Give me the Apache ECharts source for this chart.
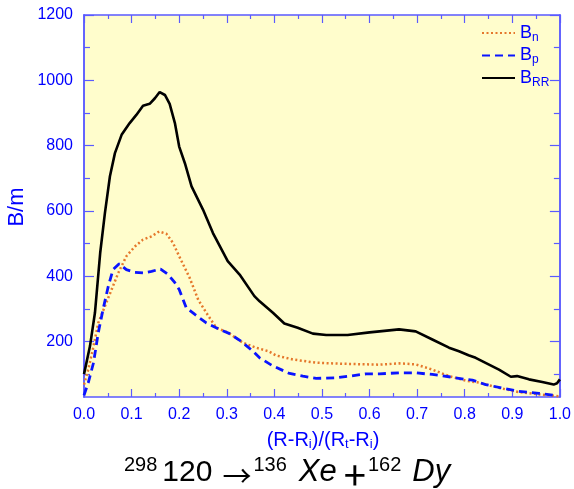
<!DOCTYPE html>
<html>
<head>
<meta charset="utf-8">
<script src="https://cdn.jsdelivr.net/npm/echarts@6/dist/echarts.min.js"></script>
<style>
html,body{margin:0;padding:0;background:#fff;}
#chart{width:574px;height:489px;}
</style>
</head>
<body>
<div id="chart"></div>
<script>
// ---- data ----
const seriesNames = ['Bn', 'Bp', 'BRR'];
const xTickLabels = ['0.0','0.1','0.2','0.3','0.4','0.5','0.6','0.7','0.8','0.9','1.0'];
const yTickLabels = [200, 400, 600, 800, 1000, 1200];
const yMinorTicks = [100, 300, 500, 700, 900, 1100];

const brrX = [0, 0.0126, 0.023, 0.034, 0.044, 0.0545, 0.065, 0.079, 0.096, 0.11, 0.124, 0.138, 0.149, 0.159, 0.170, 0.18, 0.191, 0.2, 0.212, 0.226, 0.25, 0.271, 0.302, 0.327, 0.358, 0.369, 0.397, 0.421, 0.449, 0.481, 0.509, 0.554, 0.6, 0.621, 0.662, 0.697, 0.732, 0.767, 0.788, 0.808, 0.823, 0.872, 0.897, 0.91, 0.935, 0.963, 0.987, 0.994, 1.0];
const brrY = [100, 186, 288, 471, 594, 706, 777, 833, 869, 894, 922, 928, 945, 964, 955, 928, 869, 797, 746, 675, 604, 532, 446, 405, 339, 323, 288, 255, 242, 224, 220, 220, 228, 231, 237, 231, 206, 181, 170, 158, 150, 114, 92, 94, 84, 76, 68, 72, 84];

const bnX = [0, 0.009, 0.02, 0.03, 0.044, 0.058, 0.072, 0.089, 0.107, 0.124, 0.142, 0.158, 0.173, 0.187, 0.2, 0.222, 0.24, 0.257, 0.278, 0.303, 0.334, 0.362, 0.388, 0.404, 0.439, 0.488, 0.537, 0.593, 0.621, 0.662, 0.697, 0.732, 0.767, 0.806, 0.83, 0.872, 0.914, 0.956, 1.0];
const bnY = [68, 114, 186, 257, 308, 359, 410, 461, 491, 512, 522, 537, 530, 502, 461, 395, 328, 288, 242, 227, 196, 181, 170, 157, 145, 135, 132, 130, 129, 133, 130, 114, 94, 79, 74, 58, 45, 38, 32];

const bpX = [0, 0.009, 0.02, 0.03, 0.04, 0.051, 0.061, 0.074, 0.089, 0.107, 0.124, 0.142, 0.161, 0.177, 0.191, 0.2, 0.215, 0.233, 0.257, 0.285, 0.306, 0.33, 0.355, 0.369, 0.397, 0.432, 0.46, 0.488, 0.53, 0.558, 0.593, 0.621, 0.662, 0.697, 0.732, 0.767, 0.802, 0.816, 0.844, 0.886, 0.914, 0.956, 0.991];
const bpY = [35, 74, 135, 227, 298, 369, 420, 438, 420, 412, 410, 415, 422, 405, 380, 359, 303, 283, 257, 237, 224, 201, 170, 150, 125, 102, 94, 87, 89, 94, 101, 101, 104, 104, 99, 92, 84, 82, 68, 55, 47, 41, 35];

// ---- chart ----
const zip = (xs, ys) => xs.map((x, i) => [x, ys[i]]);
const AX = '#5a5aff';
const LBL = '#0000ff';
const FONT = 'Liberation Sans';

const xBase = {
  type: 'value', min: 0, max: 1, interval: 0.1,
  axisLine: { show: true, onZero: false, lineStyle: { color: AX, width: 1.5 } },
  axisTick: { show: true, inside: true, length: 8, lineStyle: { color: AX, width: 1.2 } },
  minorTick: { show: true, splitNumber: 2, length: 4, lineStyle: { color: AX, width: 1.2 } },
  splitLine: { show: false }, minorSplitLine: { show: false }
};
const yBase = {
  type: 'value', min: 30, max: 1200,
  splitLine: { show: false }
};
function yAxisDef(pos, ticks, len, labels) {
  return Object.assign({}, yBase, {
    position: pos,
    axisLine: { show: true, onZero: false, lineStyle: { color: AX, width: 1.5 } },
    axisTick: { show: true, inside: true, length: len, customValues: ticks, lineStyle: { color: AX, width: 1.2 } },
    axisLabel: labels ? { show: true, customValues: yTickLabels, color: LBL, fontSize: 16, fontFamily: FONT, margin: 11,
      formatter: v => String(v) } : { show: false }
  });
}

const chart = echarts.init(document.getElementById('chart'), null, { renderer: 'canvas' });
chart.setOption({
  animation: false,
  backgroundColor: '#ffffff',
  grid: { left: 84, right: 13, top: 15, bottom: 92, show: true, backgroundColor: '#fffdcc', borderWidth: 0 },
  xAxis: [
    Object.assign({}, xBase, { position: 'bottom',
      axisLabel: { show: true, color: LBL, fontSize: 16, fontFamily: FONT, margin: 10,
        formatter: v => xTickLabels[Math.round(v * 10)] } }),
    Object.assign({}, xBase, { position: 'top', axisLabel: { show: false } })
  ],
  yAxis: [
    yAxisDef('left', yTickLabels, 10, true),
    yAxisDef('left', yMinorTicks, 6, false),
    yAxisDef('right', yTickLabels, 10, false),
    yAxisDef('right', yMinorTicks, 6, false)
  ],
  legend: {
    orient: 'vertical', left: 476, top: 19, itemWidth: 33, itemHeight: 14, itemGap: 3,
    data: seriesNames, selectedMode: false,
    itemStyle: { opacity: 0 },
    formatter: n => '{b|B}{s|' + n.slice(1) + '}',
    textStyle: {
      rich: {
        b: { fontSize: 18, fontFamily: FONT, color: LBL, lineHeight: 24, padding: [0, 0, 0, 0] },
        s: { fontSize: 12, fontFamily: FONT, color: LBL, padding: [9, 0, 0, 0] }
      }
    }
  },
  series: [
    { name: 'Bn', type: 'line', data: zip(bnX, bnY), symbol: 'none', xAxisIndex: 0, yAxisIndex: 0,
      lineStyle: { color: '#e5782c', width: 2.5, type: [2, 2.5] }, itemStyle: { color: '#e5782c' }, z: 3 },
    { name: 'Bp', type: 'line', data: zip(bpX, bpY), symbol: 'none', xAxisIndex: 0, yAxisIndex: 0,
      lineStyle: { color: '#0a14ff', width: 2.8, type: [8, 5] }, itemStyle: { color: '#0a14ff' }, z: 4 },
    { name: 'BRR', type: 'line', data: zip(brrX, brrY), symbol: 'none', xAxisIndex: 0, yAxisIndex: 0,
      lineStyle: { color: '#000000', width: 2.6, type: 'solid' }, itemStyle: { color: '#000000' }, z: 5 }
  ],
  graphic: [
    { type: 'text', x: 17, y: 207, rotation: Math.PI / 2,
      style: { text: 'B/m', fill: LBL, font: '22px "Liberation Sans"', align: 'center', verticalAlign: 'middle' } },
    { type: 'text', x: 323, y: 440,
      style: { text: '(R-R{s|i})/(R{s|t}-R{s|i})', fill: LBL, font: '20px "Liberation Sans"', align: 'center', verticalAlign: 'middle',
        rich: { s: { fontSize: 13, fontFamily: FONT, fill: LBL, padding: [8, 0, 0, 0] } } } },
    { type: 'text', x: 124, y: 472.5,
      style: {
        text: '{sup|298}{m|120}{ar|\u2192}{sup2|136}{it|Xe}{pl|+}{sup3|162}{it2|Dy}',
        fill: '#000', font: '30px "Liberation Sans"', align: 'left', verticalAlign: 'middle',
        rich: {
          sup: { fontSize: 20, fontFamily: FONT, fill: '#000', padding: [0, 5, 15, 0] },
          m: { fontSize: 30, fontFamily: FONT, fill: '#000', padding: [0, 10, 0, 0] },
          ar: { fontSize: 29, fontFamily: 'Noto Sans CJK SC', fill: '#000', padding: [7, 2, 0, 0] },
          sup2: { fontSize: 20, fontFamily: FONT, fill: '#000', padding: [0, 12, 15, 0] },
          it: { fontSize: 31, fontFamily: FONT, fontStyle: 'italic', fill: '#000', padding: [0, 7, 0, 0] },
          pl: { fontSize: 40, fontFamily: 'Noto Sans CJK SC', fill: '#000', padding: [5, 2, 0, 0] },
          sup3: { fontSize: 20, fontFamily: FONT, fill: '#000', padding: [0, 11, 15, 0] },
          it2: { fontSize: 31, fontFamily: FONT, fontStyle: 'italic', fill: '#000', padding: [0, 0, 0, 0] }
        }
      } }
  ]
});
</script>
</body>
</html>
